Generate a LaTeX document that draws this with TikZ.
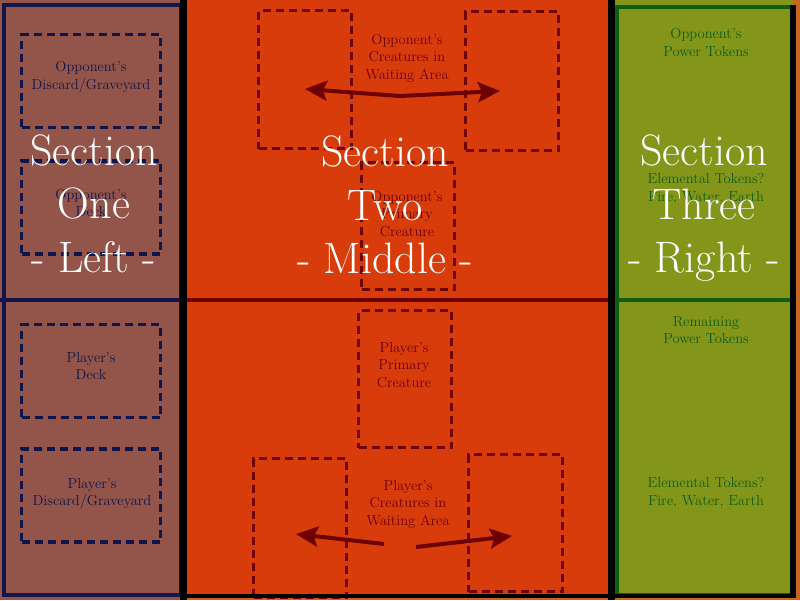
\documentclass[tikz,border=0pt]{standalone}
\usepackage{xcolor}
\usepackage{tikz}
\usetikzlibrary{arrows.meta,calc}

\definecolor{bgorange}{HTML}{C8641E}
\definecolor{leftbrown}{HTML}{93554A}
\definecolor{navyline}{HTML}{10164A}
\definecolor{midred}{HTML}{D93C0B}
\definecolor{darkred}{HTML}{6E0000}
\definecolor{olivegrn}{HTML}{849619}
\definecolor{dkgreen}{HTML}{0E5E0E}

\tikzset{
  navybox/.style={draw=navyline, line width=3.5pt, dash pattern=on 8pt off 5pt,
    minimum width=139pt, minimum height=93pt, inner sep=0pt},
  redbox/.style={draw=darkred, line width=3.5pt, dash pattern=on 8pt off 5pt, inner sep=0pt},
  smalltext/.style={align=center, inner sep=0pt, font=\fontsize{14.5}{17.5}\selectfont},
  bigtext/.style={align=center, inner sep=0pt, text=white, font=\fontsize{44}{53.5}\selectfont},
  movearrow/.style={draw=darkred, line width=4pt, -{Stealth[length=22pt,width=20pt,inset=4pt]}}
}

\begin{document}
\begin{tikzpicture}[x=1pt,y=-1pt]
\useasboundingbox (0,0) rectangle (800,600);

% the three sections
\fill[bgorange] (0,0) rectangle (800,600);
\fill[leftbrown] (0,0) rectangle (181,600);
\fill[midred] (187,0) rectangle (608,596);
\fill[olivegrn] (614,0) rectangle (793,596);

\draw[navyline, line width=4pt] (0,300) -- (181,300);
\draw[darkred, line width=4pt] (187,300) -- (608,300);
\draw[dkgreen, line width=4pt] (614,300) -- (793,300);

\draw[navyline, line width=4pt] (4,5) rectangle (181,595);
\draw[dkgreen, line width=4pt] (616.5,6.5) rectangle (793,595);

% left: decks and graveyards
\foreach \name/\cy in {oppdiscard/81, oppdeck/207.5, pldeck/371, pldiscard/495.5}
    \node[navybox] (\name) at (91,\cy) {};

\node[smalltext, text=navyline] (oppdiscardtxt) at (91,77) {Opponent's\\Discard/Graveyard};
\node[smalltext, text=navyline] (oppdecktxt) at (91,203) {Opponent's\\Deck};
\node[smalltext, text=navyline] (pldecktxt) at (91,366) {Player's\\Deck};
\node[smalltext, text=navyline] (pldiscardtxt) at (92,494) {Player's\\Discard/Graveyard};

% middle: creatures
\node[redbox, minimum width=93pt, minimum height=138pt] (oppwaitl) at (305,79.5) {};
\node[redbox, minimum width=93pt, minimum height=139pt] (oppwaitr) at (512,81) {};
\node[redbox, minimum width=93pt, minimum height=127pt] (oppprim) at (408,226) {};
\node[redbox, minimum width=93pt, minimum height=137pt] (plprim) at (405,379) {};
\node[redbox, minimum width=93pt, minimum height=139pt] (plwaitl) at (300,528) {};
\node[redbox, minimum width=94pt, minimum height=137pt] (plwaitr) at (515.5,523) {};

\node[smalltext, text=darkred] (oppwaittxt) at (407,58) {Opponent's\\Creatures in\\Waiting Area};
\node[smalltext, text=darkred] (opprimtxt) at (407,214) {Opponent's\\Primary\\Creature};
\node[smalltext, text=darkred] (plprimtxt) at (404,365) {Player's\\Primary\\Creature};
\node[smalltext, text=darkred] (plwaittxt) at (408,504) {Player's\\Creatures in\\Waiting Area};

\coordinate (oppmid) at (400,96);
\coordinate (oppleft) at (305,89);
\coordinate (oppright) at (500,91);
\coordinate (plmidl) at (384,544);
\coordinate (plleft) at (296,534);
\coordinate (plmidr) at (416,547);
\coordinate (plright) at (512,536);

\draw[movearrow] (oppmid) -- (oppleft);
\draw[movearrow] (oppmid) -- (oppright);
\draw[movearrow] (plmidl) -- (plleft);
\draw[movearrow] (plmidr) -- (plright);

% right: tokens
\node[smalltext, text=dkgreen] (opppowtxt) at (706,42.5) {Opponent's\\Power Tokens};
\node[smalltext, text=dkgreen] (oppelemtxt) at (706,189) {Elemental Tokens?\\Fire, Water, Earth};
\node[smalltext, text=dkgreen] (plpowtxt) at (706,330) {Remaining\\Power Tokens};
\node[smalltext, text=dkgreen] (plelemtxt) at (706,493) {Elemental Tokens?\\Fire, Water, Earth};

% black separators
\draw[black, line width=7pt] (183.5,0) -- (183.5,600);
\draw[black, line width=7pt] (611,0) -- (611,600);
\draw[black, line width=6pt] (792.5,5) -- (792.5,598);
\draw[black, line width=4pt] (181,596) -- (795.5,596);

\foreach \cx/\num/\side/\cy in {94/One/Left/203.7, 385/Two/Middle/205.2, 704/Three/Right/208.3}
    \node[bigtext] (sec\num) at (\cx,\cy) {Section\\\num\\- \side\ -};

\end{tikzpicture}
\end{document}
